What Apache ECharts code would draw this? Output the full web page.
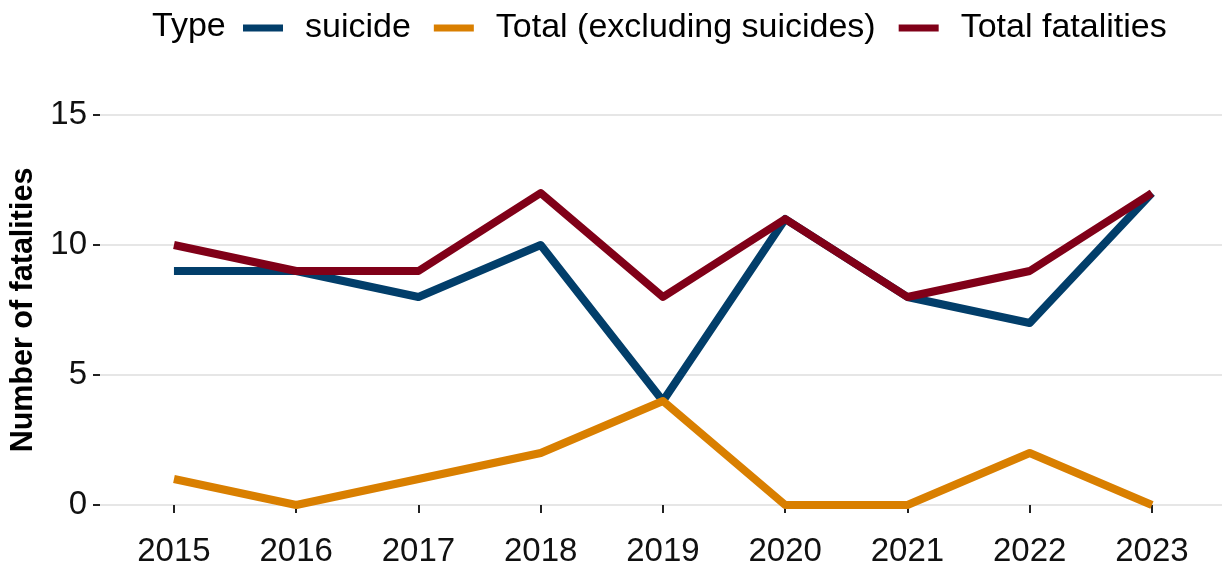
<!DOCTYPE html>
<html>
<head>
<meta charset="utf-8">
<script src="https://cdn.jsdelivr.net/npm/echarts@6/dist/echarts.min.js"></script>
<style>html,body{margin:0;padding:0;background:#fff;}#c{width:1222px;height:568px;}</style>
</head>
<body>
<div id="c"></div>
<script>
var years = [2015, 2016, 2017, 2018, 2019, 2020, 2021, 2022, 2023];
var suicide = [9, 9, 8, 10, 4, 11, 8, 7, 12];
var totalExcl = [1, 0, 1, 2, 4, 0, 0, 2, 0];
var totalFatalities = [10, 9, 9, 12, 8, 11, 8, 9, 12];
var yTicks = [0, 5, 10, 15];
var seriesNames = ['suicide', 'Total (excluding suicides)', 'Total fatalities'];
var colors = ['#023e6a', '#d97f00', '#800018'];

var FONT = 'Liberation Sans, Arial, sans-serif';
function pairs(vals) { return years.map(function (y, i) { return [y, vals[i]]; }); }
var allVals = [suicide, totalExcl, totalFatalities];

var chart = echarts.init(document.getElementById('c'), null, {renderer: 'canvas'});
chart.setOption({
  animation: false,
  backgroundColor: '#ffffff',
  color: colors,
  textStyle: {fontFamily: FONT},
  graphic: [{
    type: 'text', left: 152, top: 10,
    style: {text: 'Type', font: '34px ' + FONT, fill: '#000'}
  }],
  legend: {
    left: 243, top: 11, padding: 0,
    itemWidth: 40, itemHeight: 7, itemGap: 23,
    icon: 'rect',
    data: seriesNames,
    textStyle: {fontSize: 34, fontFamily: FONT, color: '#000', padding: [0, 0, 0, 17]}
  },
  grid: {left: 100, right: 0, top: 115, bottom: 63, containLabel: false},
  xAxis: {
    type: 'value', min: 2014.395, max: 2023.573, offset: 19,
    axisLine: {show: false},
    splitLine: {show: false},
    axisTick: {show: true, length: 8, customValues: years, lineStyle: {color: '#222', width: 2}},
    axisLabel: {customValues: years, margin: 11, fontSize: 33, fontFamily: FONT, color: '#111',
      formatter: function (v) { return String(v); }}
  },
  yAxis: {
    type: 'value', min: 0, max: 15, interval: 5,
    name: 'Number of fatalities', nameLocation: 'middle', nameGap: 54,
    nameTextStyle: {fontSize: 30.5, fontWeight: 'bold', fontFamily: FONT, color: '#000'},
    axisLine: {show: false},
    axisTick: {show: true, length: 7, lineStyle: {color: '#222', width: 2}},
    axisLabel: {margin: 13, fontSize: 33, fontFamily: FONT, color: '#111'},
    splitLine: {show: true, lineStyle: {color: '#dedede', width: 1.5}}
  },
  series: seriesNames.map(function (n, i) {
    return {
      name: n, type: 'line', data: pairs(allVals[i]), showSymbol: false, symbol: 'none',
      clip: false,
      lineStyle: {width: 8, color: colors[i], join: 'round', cap: 'butt'},
      itemStyle: {color: colors[i]}
    };
  })
});
</script>
</body>
</html>
